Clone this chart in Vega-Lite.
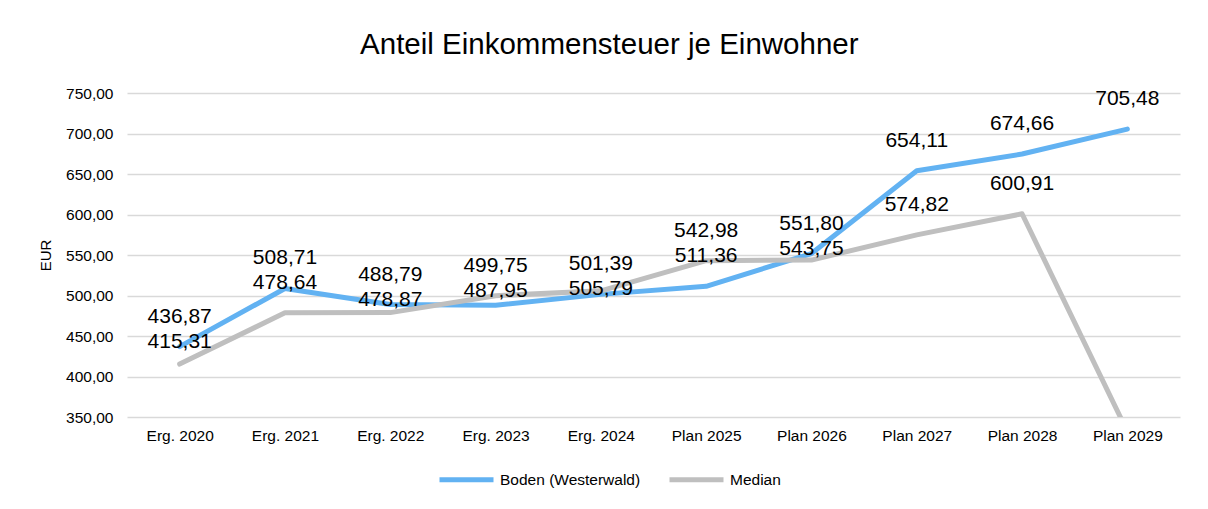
{
  "$schema": "https://vega.github.io/schema/vega-lite/v6.json",
  "width": 1053,
  "height": 324,
  "autosize": {"type": "none"},
  "padding": {"left": 127, "top": 93, "right": 28, "bottom": 92},
  "background": "white",
  "config": {
    "locale": {"number": {"decimal": ",", "thousands": ".", "grouping": [3], "currency": ["", " €"]}},
    "font": "Liberation Sans",
    "view": {"stroke": null},
    "axis": {"labelFont": "Liberation Sans", "labelColor": "#000000", "labelFontSize": 15.5, "titleFont": "Liberation Sans", "titleColor": "#000000", "titleFontSize": 15, "titleFontWeight": "normal", "domain": false, "ticks": false, "gridColor": "#D9D9D9", "gridWidth": 1.5}
  },
  "title": {"text": "Anteil Einkommensteuer je Einwohner", "fontSize": 29.5, "fontWeight": "normal", "color": "#000000", "font": "Liberation Sans", "anchor": "middle", "frame": "bounds", "offset": 26},
  "data": {"values": [
    {"Jahr": "Erg. 2020", "Boden": 436.87, "Median": 415.31},
    {"Jahr": "Erg. 2021", "Boden": 508.71, "Median": 478.64},
    {"Jahr": "Erg. 2022", "Boden": 488.79, "Median": 478.87},
    {"Jahr": "Erg. 2023", "Boden": 487.95, "Median": 499.75},
    {"Jahr": "Erg. 2024", "Boden": 501.39, "Median": 505.79},
    {"Jahr": "Plan 2025", "Boden": 511.36, "Median": 542.98},
    {"Jahr": "Plan 2026", "Boden": 551.80, "Median": 543.75},
    {"Jahr": "Plan 2027", "Boden": 654.11, "Median": 574.82},
    {"Jahr": "Plan 2028", "Boden": 674.66, "Median": 600.91},
    {"Jahr": "Plan 2029", "Boden": 705.48, "Median": 332}
  ]},
  "encoding": {
    "x": {"field": "Jahr", "type": "ordinal", "sort": null, "scale": {"type": "point", "padding": 0.5},
      "axis": {"title": null, "labelAngle": 0, "labelPadding": 11, "grid": false}}
  },
  "layer": [
    {
      "transform": [{"fold": ["Boden", "Median"], "as": ["Serie", "Wert"]}],
      "mark": {"type": "line", "clip": true, "strokeWidth": 5, "strokeCap": "round", "strokeJoin": "round"},
      "encoding": {
        "y": {"field": "Wert", "type": "quantitative", "scale": {"domain": [350, 750], "nice": false, "zero": false},
          "axis": {"title": "EUR", "values": [350, 400, 450, 500, 550, 600, 650, 700, 750], "format": ".2f", "labelPadding": 14, "titlePadding": 12}},
        "color": {"field": "Serie", "type": "nominal",
          "scale": {"domain": ["Boden", "Median"], "range": ["#62B2F2", "#BFBFBF"]},
          "legend": {"title": null, "orient": "none", "legendX": 310, "legendY": 357, "direction": "horizontal", "columns": 2,
            "symbolType": "stroke", "symbolSize": 2916, "symbolStrokeWidth": 5, "labelFontSize": 15.5, "labelColor": "#000000", "labelFont": "Liberation Sans",
            "labelOffset": 4, "columnPadding": 18,
            "labelExpr": "datum.label == 'Boden' ? 'Boden (Westerwald)' : datum.label"}}
      }
    },
    {
      "transform": [{"filter": "!(datum.Median - datum.Boden > 8 && datum.Median - datum.Boden < 25)"}],
      "mark": {"type": "text", "fontSize": 21, "color": "#000000", "baseline": "middle", "dy": -30},
      "encoding": {"y": {"field": "Boden", "type": "quantitative"}, "text": {"field": "Boden", "format": ".2f"}}
    },
    {
      "transform": [{"filter": "datum.Median - datum.Boden > 8 && datum.Median - datum.Boden < 25"}],
      "mark": {"type": "text", "fontSize": 21, "color": "#000000", "baseline": "middle", "dy": -5},
      "encoding": {"y": {"field": "Median", "type": "quantitative"}, "text": {"field": "Boden", "format": ".2f"}}
    },
    {
      "transform": [{"filter": "datum.Median > 350 && (datum.Median - datum.Boden > 8 || abs(datum.Median - datum.Boden) >= 25)"}],
      "mark": {"type": "text", "fontSize": 21, "color": "#000000", "baseline": "middle", "dy": -30},
      "encoding": {"y": {"field": "Median", "type": "quantitative"}, "text": {"field": "Median", "format": ".2f"}}
    },
    {
      "transform": [{"filter": "abs(datum.Median - datum.Boden) < 25 && datum.Median - datum.Boden <= 8"}],
      "mark": {"type": "text", "fontSize": 21, "color": "#000000", "baseline": "middle", "dy": -5},
      "encoding": {"y": {"field": "Boden", "type": "quantitative"}, "text": {"field": "Median", "format": ".2f"}}
    }
  ]
}
